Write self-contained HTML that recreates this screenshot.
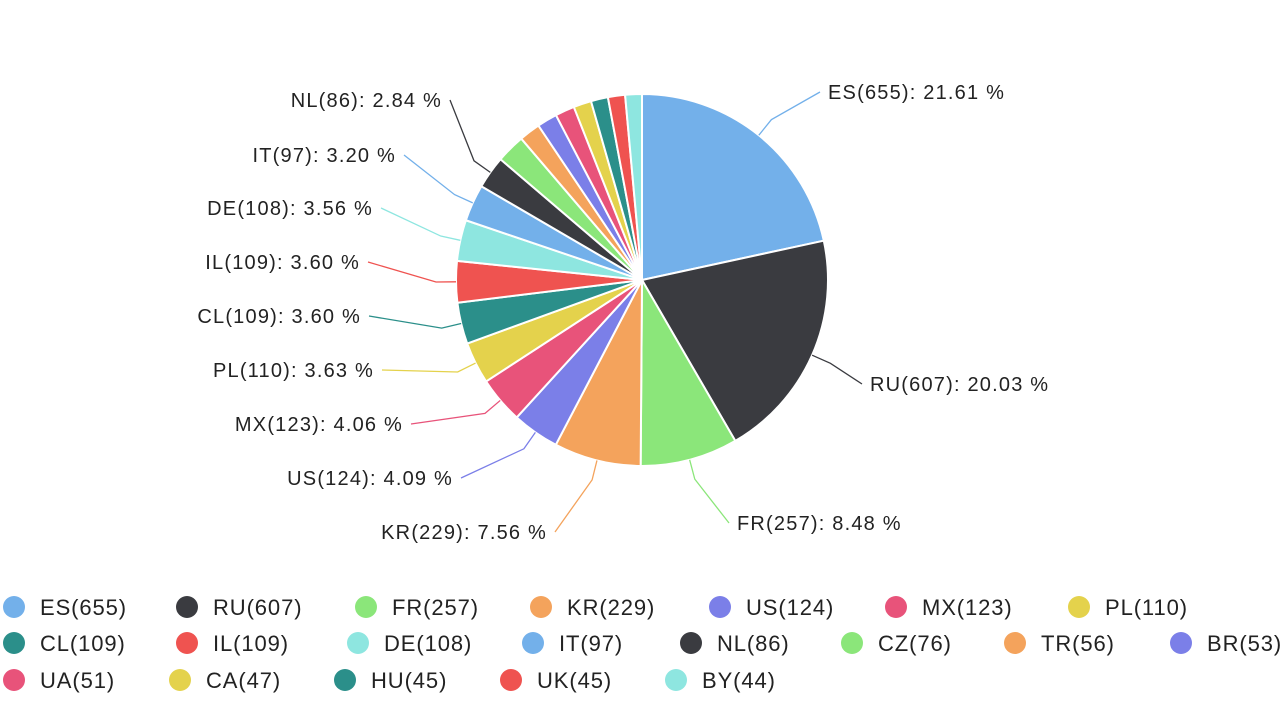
<!DOCTYPE html>
<html><head><meta charset="utf-8"><style>
html,body{margin:0;padding:0;background:#fff;}
svg{display:block;font-family:"Liberation Sans","DejaVu Sans",sans-serif;}
</style></head><body>
<svg id="chart" width="1280" height="720" viewBox="0 0 1280 720" xmlns="http://www.w3.org/2000/svg"></svg>
<script>
const categories=["ES","RU","FR","KR","US","MX","PL","CL","IL","DE","IT","NL","CZ","TR","BR","UA","CA","HU","UK","BY"];
const values=[655,607,257,229,124,123,110,109,109,108,97,86,76,56,53,51,47,45,45,44];
const colors=["#73b0ea","#3a3b40","#8be67a","#f4a35c","#7b7fe8","#e8537a","#e4d24c","#2b8f8a","#ef5350","#8ee6e0"];
// label layout (positions only): [textX, textY, anchor]
const labelLayout=[[828,92,"start"],[870,384,"start"],[737,523,"start"],[547,532,"end"],[453,478,"end"],[403,424,"end"],[374,370,"end"],[361,316,"end"],[360,262,"end"],[373,208,"end"],[396,155,"end"],[442,100,"end"]];
const legendRows=[[0,7],[7,15],[15,20]];
const legendX=[[14,187,366,541,720,896,1079],[14,187,358,533,691,852,1015,1181],[14,180,345,511,676]];
const legendY=[607,643,680];

const NS="http://www.w3.org/2000/svg";
const svg=document.getElementById("chart");
const cx=642,cy=280,R=186;
const total=values.reduce((a,b)=>a+b,0);
function mk(t,a){const e=document.createElementNS(NS,t);for(const k in a)e.setAttribute(k,a[k]);return e;}
function pt(ang,r){return [cx+r*Math.sin(ang),cy-r*Math.cos(ang)];}
let acc=0;
values.forEach((v,i)=>{
  const a0=acc/total*2*Math.PI; acc+=v; const a1=acc/total*2*Math.PI;
  const p0=pt(a0,R),p1=pt(a1,R);
  const large=(a1-a0)>Math.PI?1:0;
  const col=colors[i%colors.length];
  const path=mk("path",{d:`M${cx},${cy}L${p0[0]},${p0[1]}A${R},${R} 0 ${large} 1 ${p1[0]},${p1[1]}Z`,fill:col,stroke:"#fff","stroke-width":2,"stroke-linejoin":"round"});
  
  
  svg.appendChild(path);
  if(i<labelLayout.length){
    const [tx,ty,anc]=labelLayout[i];
    const m=(a0+a1)/2;
    const e=pt(m,R), b=pt(m,R+20);
    const ex=anc==="start"?tx-8:tx+8;
    const line=mk("polyline",{points:`${e[0]},${e[1]} ${b[0]},${b[1]} ${ex},${ty}`,fill:"none",stroke:col,"stroke-width":1.3});
    
    
    svg.appendChild(line);
    const t=mk("text",{x:tx,y:ty+7,"text-anchor":anc,"font-size":20,fill:"#222","letter-spacing":1.2});
    t.textContent=`${categories[i]}(${v}): ${(v/total*100).toFixed(2)} %`;
    
    
    svg.appendChild(t);
  }
});
legendRows.forEach((r,ri)=>{
  for(let i=r[0];i<r[1];i++){
    const x=legendX[ri][i-r[0]], y=legendY[ri];
    const g=mk("g",{});
    
    
    g.appendChild(mk("circle",{cx:x,cy:y,r:11,fill:colors[i%colors.length]}));
    const t=mk("text",{x:x+26,y:y+8,"font-size":22,fill:"#222","letter-spacing":0.9});
    t.textContent=`${categories[i]}(${values[i]})`;
    g.appendChild(t);
    svg.appendChild(g);
  }
});
</script>
</body></html>
